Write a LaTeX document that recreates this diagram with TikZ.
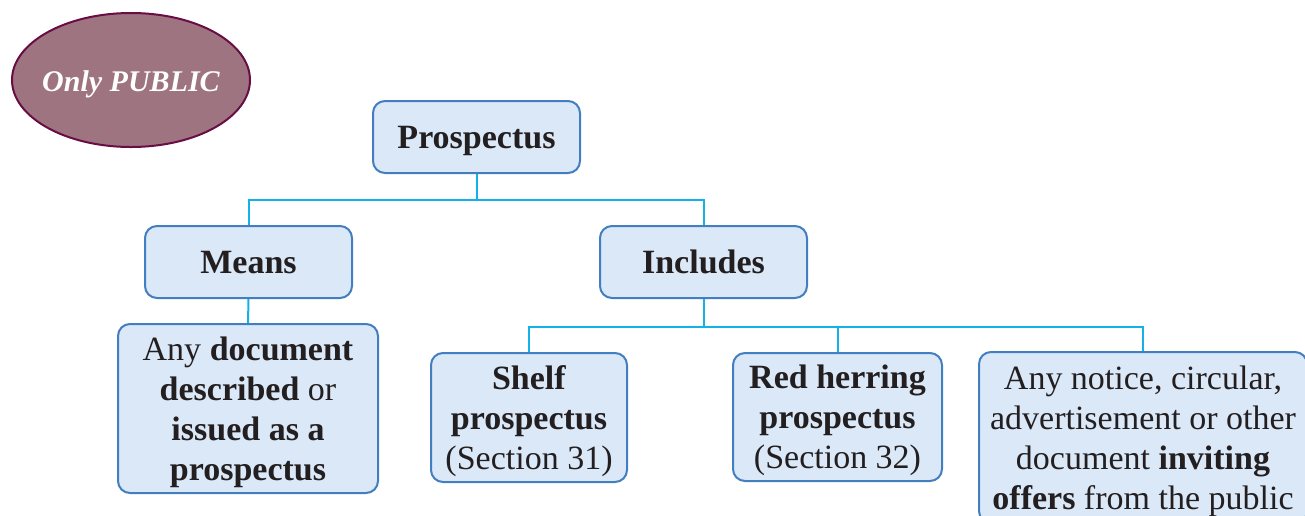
\documentclass[tikz,border=0pt]{standalone}
\usepackage{fontspec}
\setmainfont{Liberation Serif}
\usepackage{xcolor}
\definecolor{boxfill}{RGB}{218,232,247}
\definecolor{boxline}{RGB}{66,126,192}
\definecolor{linkline}{RGB}{20,176,232}
\definecolor{ink}{RGB}{35,31,32}
\definecolor{ovalfill}{RGB}{158,116,129}
\definecolor{ovalline}{RGB}{104,14,68}

\begin{document}
\begin{tikzpicture}[x=1pt,y=-1pt,
	box/.style={draw=boxline,line width=2pt,fill=boxfill,rounded corners=12pt,
		inner sep=0pt,text depth=0pt,align=center,text=ink,font=\fontsize{34}{40}\selectfont},
	link/.style={draw=linkline,line width=2pt}]
	\useasboundingbox (0,0) rectangle (1305,515);
	\clip (0,0) rectangle (1305,515);
	
	\draw[ovalline,line width=2pt,fill=ovalfill] (131,80) ellipse (119 and 67);
	\node[text=white,font=\fontsize{30}{36}\selectfont\bfseries\itshape] (only) at (131,84) {Only PUBLIC};
	
	\node[box,minimum width=207pt,minimum height=72pt] (pros) at (476.5,137) {\textbf{Prospectus}};
	\node[box,minimum width=207pt,minimum height=72pt] (means) at (248.5,262) {\textbf{Means}};
	\node[box,minimum width=207pt,minimum height=72pt] (incl) at (703.5,262) {\textbf{Includes}};
	
	\node[box,minimum width=260pt,minimum height=169pt] (anydoc) at (248,408.5)
		{Any \textbf{document}\\ \textbf{described} or\\ \textbf{issued as a}\\ \textbf{prospectus}};
	\node[box,minimum width=196pt,minimum height=129pt] (shelf) at (529,417.5)
		{\textbf{Shelf}\\ \textbf{prospectus}\\ (Section 31)};
	\node[box,minimum width=209pt,minimum height=128pt] (redh) at (837.5,417)
		{\textbf{Red herring}\\ \textbf{prospectus}\\ (Section 32)};
	\node[box,minimum width=328pt,minimum height=171pt] (notice) at (1143,437.5)
		{Any notice, circular,\\ advertisement or other\\ document \textbf{inviting}\\ \textbf{offers} from the public};
	
	\draw[link] (pros.south) -- ++(0,26) coordinate (j1);
	\draw[link] (j1) -| (means.north);
	\draw[link] (j1) -| (incl.north);
	\draw[link] (means.south) -- (anydoc.north);
	\draw[link] (incl.south) -- ++(0,28) coordinate (j2);
	\draw[link] (j2) -| (shelf.north);
	\draw[link] (j2) -| (redh.north);
	\draw[link] (j2) -| (notice.north);
\end{tikzpicture}
\end{document}
